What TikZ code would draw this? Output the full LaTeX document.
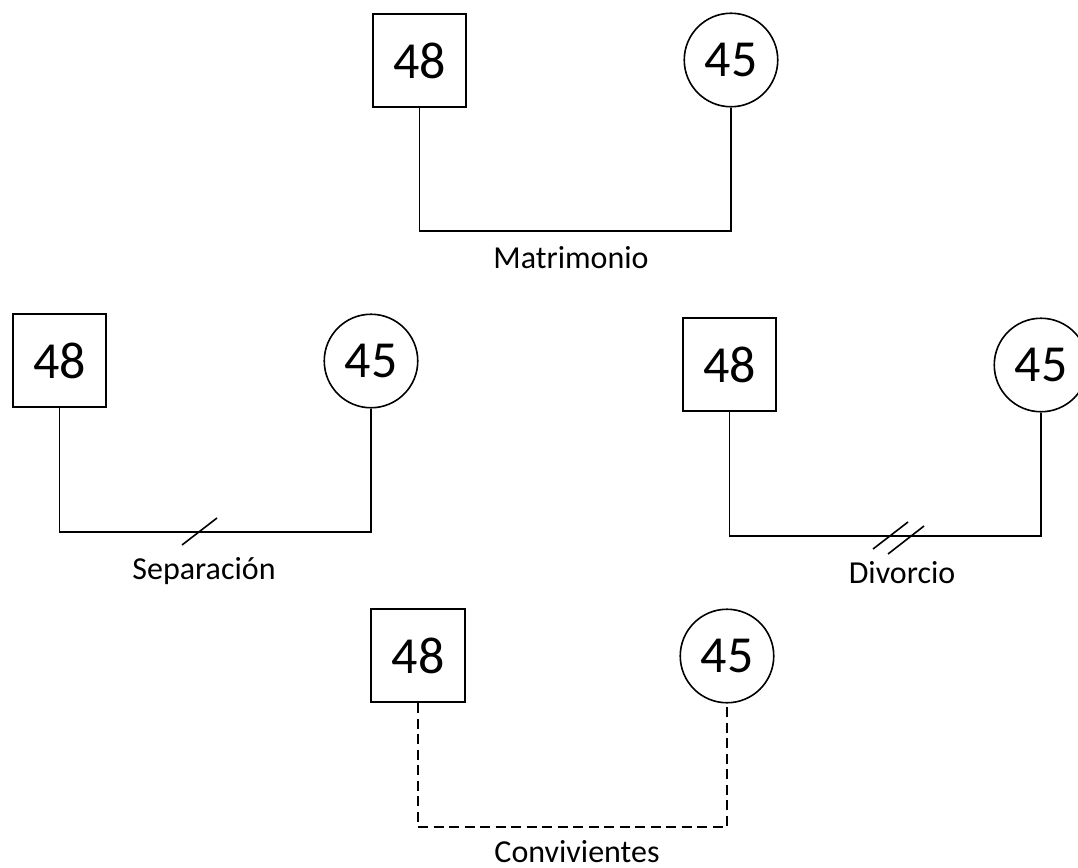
\documentclass[tikz,border=0pt]{standalone}
\usepackage{fontspec}
\setmainfont{Carlito}
\usetikzlibrary{calc}
\begin{document}
\begin{tikzpicture}[x=1pt,y=-1pt,
  line width=1.6pt,
  male/.style={draw, rectangle, minimum size=93.5pt, inner sep=0pt,
    font=\fontsize{52}{56}\selectfont},
  female/.style={draw, circle, minimum size=93.5pt, inner sep=0pt,
    font=\fontsize{52}{56}\selectfont},
  tie/.style={line width=1.6pt},
  caption/.style={font=\fontsize{32}{36}\selectfont, inner sep=0pt},
  slash/.style={line width=1.6pt}]
\useasboundingbox (0,0) rectangle (1078,867);

% Matrimonio
\node[male]   (m1) at (419.5,60.5) {48};
\node[female] (m2) at (731,60) {45};
\coordinate (mb) at (0,231);
\draw[tie] (m1.south) |- (m2.south |- mb) -- (m2.south);
\node[caption] (ml) at (571,258) {Matrimonio};

% Separación
\node[male]   (s1) at (59.5,360.5) {48};
\node[female] (s2) at (371,361) {45};
\coordinate (sb) at (0,532);
\draw[tie] (s1.south) |- (s2.south |- sb) -- (s2.south);
\coordinate (sx) at (199.5,532);
\draw[slash] ($(sx)+(-17.5,13)$) -- ($(sx)+(17.5,-14)$);
\node[caption] (sl) at (204,571) {Separación};

% Divorcio
\node[male]   (d1) at (729.5,364.5) {48};
\node[female] (d2) at (1041,365) {45};
\coordinate (db) at (0,536);
\draw[tie] (d1.south) |- (d2.south |- db) -- (d2.south);
\coordinate (dx1) at (890.5,536);
\coordinate (dx2) at (906,538);
\draw[slash] ($(dx1)+(-17.5,13)$) -- ($(dx1)+(17.5,-14)$);
\draw[slash] ($(dx2)+(-18,16)$) -- ($(dx2)+(18,-12)$);
\node[caption] (dl) at (902,573) {Divorcio};

% Convivientes
\node[male]   (c1) at (418,655.5) {48};
\node[female] (c2) at (727,656) {45};
\coordinate (cb) at (0,827);
\draw[tie, dash pattern=on 10pt off 5.5pt] (c1.south) |- (c2.south |- cb) -- (c2.south);
\node[caption] (cl) at (577,852) {Convivientes};
\end{tikzpicture}
\end{document}
